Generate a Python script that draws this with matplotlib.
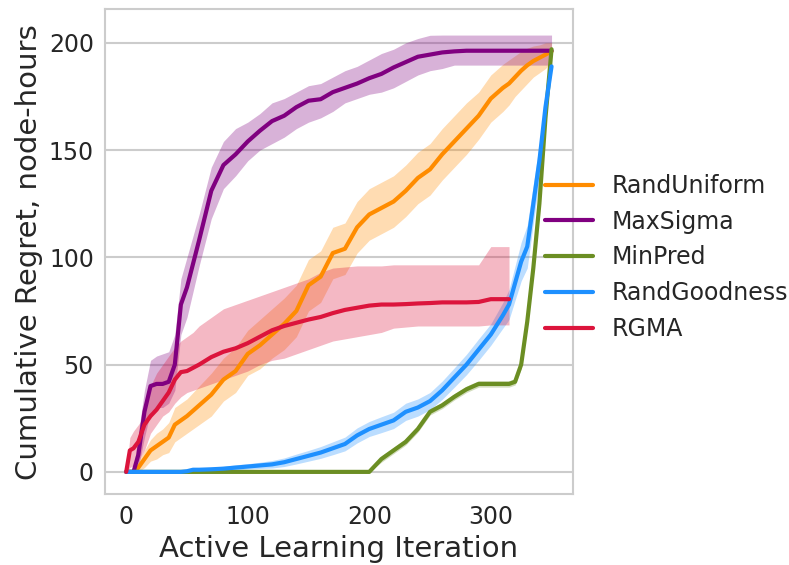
import numpy as np
import matplotlib
matplotlib.use("Agg")
import matplotlib.pyplot as plt

# Iterations (shared x grid)
iters = [0, 3, 6, 10, 15, 20, 25, 30, 35, 40, 45, 50, 55, 60, 70, 80, 90, 100,
         110, 120, 130, 140, 150, 160, 170, 180, 190, 200, 210, 220, 230, 240,
         250, 260, 270, 280, 290, 300, 310, 315, 320, 325, 330, 335, 340, 345, 350]

nan = float("nan")

# RandUniform
rand_uniform = [0, 0, 0, 2, 6, 10, 12, 14, 16, 22, 24, 26, 28.5, 31, 36, 43, 47, 55,
                59, 64, 69, 75, 87, 91, 102, 104, 114, 120, 123, 126, 131, 137,
                141, 148, 154, 160, 166, 174, 179, 181, 184, 187, 189.5, 191.5, 193, 194.5, 196]
rand_uniform_lo = [0, 0, 0, 0, 2, 5, 6, 8, 9, 14, 16, 18, 20, 22, 26, 33, 37, 45,
                   48, 53, 57, 63, 75, 79, 90, 92, 102, 108, 111, 114, 119, 125,
                   129, 136, 142, 148, 155, 163, 168, 171, 175, 178, 181, 184, 186, 188, 191]
rand_uniform_hi = [0, 0, 0, 5, 10, 15, 18, 20, 23, 30, 32, 34, 37, 40, 46, 53, 58, 66,
                   71, 76, 81, 87, 99, 103, 114, 116, 126, 132, 135, 138, 143, 149,
                   153, 160, 166, 172, 177, 185, 190, 192, 194, 196, 197.5, 198.5, 199, 200, 200]

# MaxSigma
max_sigma = [0, 0, 0, 8, 28, 40, 41, 41, 42, 50, 78, 86, 97, 108, 131, 143, 148, 154,
             159, 163.5, 166, 170, 173, 173.7, 177, 179, 181, 183.5, 185.5, 188.5, 191, 193.5,
             194.5, 195.5, 196, 196.3, 196.3, 196.3, 196.3, 196.3, 196.3, 196.3, 196.3, 196.3, 196.3, 196.3, 196.3]
max_sigma_lo = [0, 0, 0, 2, 16, 28, 30, 30, 32, 38, 64, 72, 84, 96, 118, 132, 138, 145,
                150, 153, 156, 160, 163, 165, 168, 172, 174, 176, 177, 179, 182, 185,
                187, 188, 189.6, 189.6, 189.6, 189.6, 189.6, 189.6, 189.6, 189.6, 189.6, 189.6, 189.6, 189.6, 189.6]
max_sigma_hi = [0, 0, 1, 18, 38, 52, 54, 55, 56, 64, 90, 100, 110, 120, 142, 154, 160, 163,
                167, 172, 174, 177, 180, 181, 184, 187, 189, 192, 195, 197, 200, 202,
                203.5, 203.6, 203.6, 203.6, 203.6, 203.6, 203.6, 203.6, 203.6, 203.6, 203.6, 203.6, 203.6, 203.6, 203.6]

# MinPred
min_pred = [0, 0, 0, 0, 0, 0, 0, 0, 0, 0, 0, 0, 0, 0, 0, 0, 0, 0,
            0, 0, 0, 0, 0, 0, 0, 0, 0, 0, 6, 10, 14, 20,
            28, 31, 35, 38.5, 41, 41, 41, 41, 42, 50, 70, 95, 125, 165, 197]
min_pred_lo = [0, 0, 0, 0, 0, 0, 0, 0, 0, 0, 0, 0, 0, 0, 0, 0, 0, 0,
               0, 0, 0, 0, 0, 0, 0, 0, 0, 0, 4.5, 8.5, 12.5, 18.5,
               26.5, 29.5, 33.5, 37, 39.5, 39.5, 39.5, 39.5, 40.5, 48, 67, 92, 122, 162, 195]
min_pred_hi = [0, 0, 0, 0, 0, 0, 0, 0, 0, 0, 0, 0, 0, 0, 0, 0, 0, 0,
               0, 0, 0, 0, 0, 0, 0, 0, 0, 0.5, 7.5, 11.5, 15.5, 21.5,
               29.5, 32.5, 36.5, 40, 42.5, 42.5, 42.5, 42.5, 43.5, 52, 73, 98, 128, 168, 198]

# RandGoodness
rand_goodness = [0, 0, 0, 0, 0, 0, 0, 0, 0, 0, 0, 0.3, 1, 1, 1.2, 1.5, 2, 2.5,
                 3, 3.5, 4.5, 6, 7.5, 9, 11, 13, 17, 20, 22, 24, 28, 30,
                 33, 38, 44, 50, 57, 64, 73, 78, 88, 98, 105, 125, 145, 170, 189]
rand_goodness_lo = [0, 0, 0, 0, 0, 0, 0, 0, 0, 0, 0, 0, 0.2, 0.2, 0.3, 0.5, 0.8, 1.3,
                    1.6, 1.8, 2.5, 3.7, 5, 6.3, 8, 9.8, 13.5, 16.5, 18.3, 20.2, 24, 26,
                    29, 33.8, 39.5, 45.3, 52, 59, 67, 71, 80, 89, 95, 116, 137, 164, 186]
rand_goodness_hi = [0, 0, 0, 0, 0, 0, 0, 0, 0, 0, 0, 0.6, 1.8, 1.8, 2.2, 2.6, 3.3, 3.8,
                    4.5, 5.3, 6.5, 8.3, 10, 11.8, 14, 16.2, 20.5, 23.5, 25.7, 27.8, 32, 34,
                    37, 42.3, 48.5, 54.8, 62, 69, 79, 85, 96, 107, 115, 134, 153, 176, 192]

# RGMA
rgma = [0, 10, 11, 14, 22, 26, 29, 33, 37, 43, 46.5, 47, 48.5, 50, 53.5, 56, 57.6, 60,
        63, 66, 68, 69.5, 71, 72.2, 74, 75.5, 76.5, 77.5, 78, 78, 78.2, 78.5,
        78.7, 79, 79, 79, 79.2, 80.5, 80.5, 80.5, nan, nan, nan, nan, nan, nan, nan]
rgma_lo = [0, 2, 3, 5, 10, 18, 22, 26, 28, 32, 35, 37, 38, 39, 41, 43, 45, 47,
           50, 52, 53, 55, 57, 59, 61, 62, 63, 64, 65, 67, 67.5, 68,
           68, 68, 68, 68, 68, 68.5, 68.5, 68.5, nan, nan, nan, nan, nan, nan, nan]
rgma_hi = [0, 16, 19, 22, 26, 40, 46, 50, 54, 58, 61, 63, 65, 68, 72, 76, 78, 80,
           82, 84, 86, 88, 90, 93, 95, 95.5, 96, 96, 96, 96.5, 96.5, 96.5,
           96.5, 96.5, 96.5, 96.5, 96.5, 105, 105, 105, nan, nan, nan, nan, nan, nan, nan]

series_names = ["RandUniform", "MaxSigma", "MinPred", "RandGoodness", "RGMA"]
colors = ["#ff8c00", "#800080", "#6b8e23", "#1e90ff", "#dc143c"]
means = [rand_uniform, max_sigma, min_pred, rand_goodness, rgma]
los = [rand_uniform_lo, max_sigma_lo, min_pred_lo, rand_goodness_lo, rgma_lo]
his = [rand_uniform_hi, max_sigma_hi, min_pred_hi, rand_goodness_hi, rgma_hi]

fig = plt.figure(figsize=(7.89, 5.65), dpi=100)
ax = fig.add_axes([0.133, 0.1257, 0.593, 0.8578])

x = np.array(iters, dtype=float)
for name, c, m, lo, hi in zip(series_names, colors, means, los, his):
    ax.fill_between(x, lo, hi, color=c, alpha=0.3, linewidth=0)
for name, c, m in zip(series_names, colors, means):
    ax.plot(x, m, color=c, lw=3, label=name, solid_capstyle="round")

ax.set_xlim(-17.5, 367.5)
ax.set_ylim(-10.3, 215.6)
ax.set_xticks([0, 100, 200, 300])
ax.set_yticks([0, 50, 100, 150, 200])
ax.grid(axis="y", color="#cccccc", lw=1.5)
ax.grid(axis="x", visible=False)
ax.set_axisbelow(True)
for s in ax.spines.values():
    s.set_color("#cccccc")
    s.set_linewidth(1.5)
ax.tick_params(axis="both", length=0, labelsize=17, colors="#262626", pad=8)
ax.set_xlabel("Active Learning Iteration", fontsize=21, color="#262626")
ax.set_ylabel("Cumulative Regret, node-hours", fontsize=21, color="#262626")

leg = ax.legend(loc="center left", bbox_to_anchor=(0.896, 0.488), frameon=False,
                fontsize=17)
for t in leg.get_texts():
    t.set_color("#262626")

fig.savefig("out.png", dpi=100)
